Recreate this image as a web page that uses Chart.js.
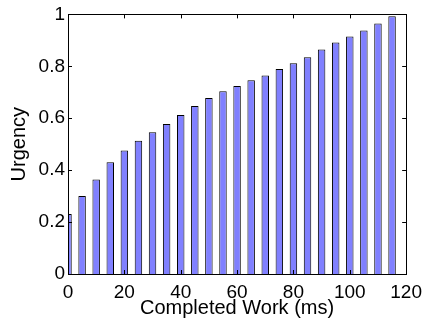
<!DOCTYPE html>
<html lang="en">
    <head>
        <meta charset="UTF-8">
        <title>Urgency vs Completed Work</title>
        <script src="https://cdn.jsdelivr.net/npm/chart.js"></script>
        <style>
            body { margin: 0; background: #fff; }
            #wrap { width: 429px; height: 320px; position: relative; }
        </style>
    </head>
    <body>
        <div id="wrap">
            <canvas id="urgencyChart"></canvas>
        </div>
        <script>
            // completed work (ms) and urgency
            const trabajo = [0, 5, 10, 15, 20, 25, 30, 35, 40, 45, 50, 55,
                             60, 65, 70, 75, 80, 85, 90, 95, 100, 105, 110, 115];
            const urgencia = [0.231, 0.300, 0.364, 0.430, 0.476, 0.513, 0.546, 0.578, 0.612, 0.647, 0.678, 0.704,
                              0.724, 0.746, 0.765, 0.790, 0.812, 0.835, 0.865, 0.892, 0.915, 0.938, 0.965, 0.993];
            const ticksX = [0, 20, 40, 60, 80, 100, 120];
            const ticksY = [0, 0.2, 0.4, 0.6, 0.8, 1];

            const fuente = '"Liberation Sans", Arial, Helvetica, sans-serif';
            const colorBarras = '#8080ff';
            const colorBorde = '#000000';

            // matlab-style box with ticks pointing inward
            const cajaPlugin = {
                id: 'caja',
                afterDraw(chart) {
                    const { ctx, chartArea: a, scales } = chart;
                    const largo = 4;
                    ctx.save();
                    ctx.strokeStyle = '#000';
                    ctx.lineWidth = 1;
                    ctx.beginPath();
                    ticksX.forEach(v => {
                        const x = Math.round(scales.x.getPixelForValue(v)) + 0.5;
                        ctx.moveTo(x, a.bottom); ctx.lineTo(x, a.bottom - largo);
                        ctx.moveTo(x, a.top); ctx.lineTo(x, a.top + largo);
                    });
                    ticksY.forEach(v => {
                        const y = Math.round(scales.y.getPixelForValue(v)) + 0.5;
                        ctx.moveTo(a.left, y); ctx.lineTo(a.left + largo, y);
                        ctx.moveTo(a.right, y); ctx.lineTo(a.right - largo, y);
                    });
                    ctx.stroke();
                    ctx.strokeRect(Math.round(a.left) + 0.5, Math.round(a.top) + 0.5,
                                   Math.round(a.right - a.left), Math.round(a.bottom - a.top));
                    ctx.restore();
                }
            };

            const ctx = document.getElementById('urgencyChart').getContext('2d');
            const urgencyChart = new Chart(ctx, {
                type: 'bar',
                data: {
                    datasets: [{
                        data: trabajo.map((x, i) => ({ x: x, y: urgencia[i] })),
                        backgroundColor: colorBarras,
                        borderColor: colorBorde,
                        borderWidth: 1,
                        borderSkipped: 'bottom',
                        barPercentage: 0.53,
                        categoryPercentage: 1,
                        clip: 0
                    }]
                },
                options: {
                    responsive: true,
                    maintainAspectRatio: false,
                    animation: false,
                    layout: { padding: { top: 14, right: 19, left: 0, bottom: 0 } },
                    plugins: {
                        legend: { display: false },
                        tooltip: { enabled: false }
                    },
                    scales: {
                        x: {
                            type: 'linear',
                            min: 0,
                            max: 120,
                            offset: false,
                            afterBuildTicks: s => { s.ticks = ticksX.map(v => ({ value: v })); },
                            afterFit: s => { s.height = 46; },
                            grid: { display: false, drawTicks: false, offset: false },
                            border: { display: false },
                            ticks: {
                                color: '#000',
                                padding: 7,
                                maxRotation: 0,
                                font: { family: fuente, size: 19 }
                            },
                            title: {
                                display: true,
                                text: 'Completed Work (ms)',
                                color: '#000',
                                padding: { top: 0, bottom: 0 },
                                font: { family: fuente, size: 20 }
                            }
                        },
                        y: {
                            min: 0,
                            max: 1,
                            afterBuildTicks: s => { s.ticks = ticksY.map(v => ({ value: v })); },
                            afterFit: s => { s.width = 68; },
                            grid: { display: false, drawTicks: false },
                            border: { display: false },
                            ticks: {
                                color: '#000',
                                padding: 3,
                                font: { family: fuente, size: 19 },
                                callback: v => String(Math.round(v * 10) / 10)
                            },
                            title: {
                                display: true,
                                text: 'Urgency',
                                color: '#000',
                                padding: { top: 7, bottom: 0 },
                                font: { family: fuente, size: 20 }
                            }
                        }
                    }
                },
                plugins: [cajaPlugin]
            });
        </script>
    </body>
</html>
